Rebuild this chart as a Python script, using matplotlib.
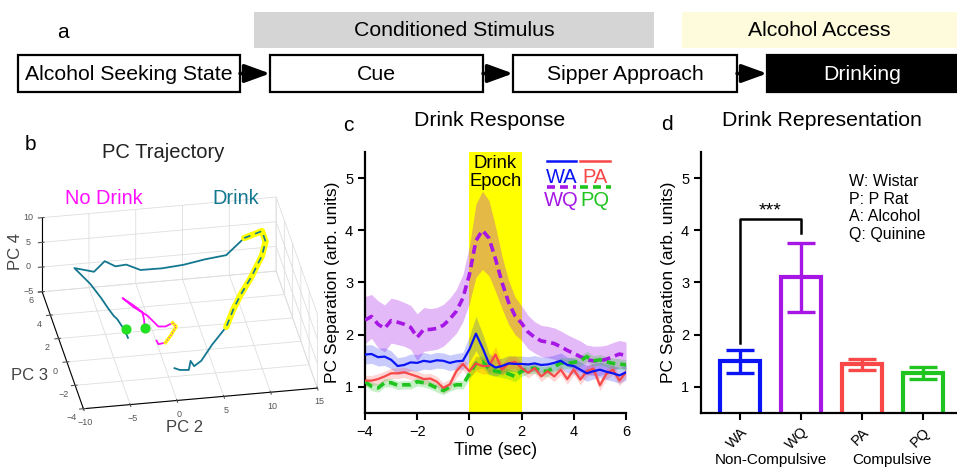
import numpy as np
import matplotlib
matplotlib.use('Agg')
import matplotlib.pyplot as plt
from matplotlib.patches import Rectangle

plt.rcParams['font.family'] = ['Liberation Sans', 'DejaVu Sans']

# ---------------- data ----------------
# panel a : task stages
stages = ['Alcohol Seeking State', 'Cue', 'Sipper Approach', 'Drinking']
bands = ['Conditioned Stimulus', 'Alcohol Access']

# panel b : PC trajectories (PC2, PC3, PC4)
drink_pc2 = [-3.33, -3.41, -3.76, -4.1, -4.48, -5.02, -5.8, -7.06, -5.34, -4.02, -3.01, -1.92, -0.64,
             1.46, 3.72, 6.05, 8.34, 10.55, 12.47, 12.64, 11.92, 10.3, 8.82, 7.75, 6.53, 4.59, 3.07,
             2.13, 1.86, 1.44, 0.51, 0.02]
drink_pc3 = [0.32, 1.0, 1.95, 2.05, 2.48, 3.0, 3.83, 4.86, 4.0, 4.39, 4.09, 3.95, 3.4,
             2.97, 2.9, 2.99, 2.98, 3.65, 3.69, 3.2, 2.46, 1.38, 0.6, -0.11, -1.13, -2.09, -2.93,
             -3.33, -3.07, -3.6, -3.54, -3.35]
drink_pc4 = [-2, -2, -2, -1.5, -1, 0, 1, 2, 3, 4, 3.5, 4, 4,
             5, 5.5, 6, 6.5, 8, 9, 8, 7, 5.5, 4, 3, 2, 1, 0,
             0, 0.5, 0, 0, 0]
nodrink_pc2 = [-1.4, -1.17, -1.18, -1.95, -2.89, -2.01, -0.76, 0.05, 0.79, 1.57, 1.9, 1.11, 0.39, -0.41, -0.47]
nodrink_pc3 = [0.64, 1.33, 1.73, 2.17, 2.63, 2.03, 1.39, 0.63, 0.58, 0.62, 0.5, 0.01, -0.34, -0.43, -0.12]
nodrink_pc4 = [-1, -1, -0.5, 0, 0.5, 0, -0.5, -1, -1, -0.5, -1, -1.5, -2, -2, -2]
drink_epoch_idx = (17, 25)
nodrink_epoch_idx = (9, 13)
start_pc2 = [-3.2, -1.4]
start_pc3 = [1.05, 0.64]
start_pc4 = [-2, -1]

# panel c : PC separation over time
time = np.arange(-4, 6.01, 0.25)
wq = [2.28, 2.35, 2.2, 2.12, 2.27, 2.24, 2.2, 2.14, 1.95, 2.1, 2.1, 2.12, 2.18, 2.3, 2.45, 2.7,
      3.15, 3.8, 4.0, 3.85, 3.45, 3.0, 2.62, 2.36, 2.22, 2.05, 1.95, 1.88, 1.86, 1.83, 1.77, 1.7,
      1.64, 1.58, 1.52, 1.5, 1.5, 1.53, 1.58, 1.63, 1.6]
wq_sem = [0.45, 0.42, 0.45, 0.45, 0.43, 0.43, 0.42, 0.42, 0.45, 0.42, 0.4, 0.4, 0.4, 0.4, 0.42, 0.45,
          0.55, 0.7, 0.75, 0.72, 0.62, 0.5, 0.42, 0.36, 0.33, 0.32, 0.3, 0.3, 0.3, 0.3, 0.3, 0.3,
          0.3, 0.3, 0.28, 0.28, 0.28, 0.27, 0.27, 0.26, 0.26]
wa = [1.62, 1.63, 1.57, 1.58, 1.52, 1.4, 1.42, 1.47, 1.46, 1.5, 1.48, 1.51, 1.5, 1.46, 1.49, 1.5,
      1.72, 2.02, 1.75, 1.45, 1.37, 1.4, 1.45, 1.44, 1.44, 1.43, 1.45, 1.42, 1.43, 1.46, 1.5, 1.42,
      1.4, 1.33, 1.26, 1.3, 1.33, 1.29, 1.26, 1.22, 1.28]
wa_sem = [0.18, 0.18, 0.17, 0.17, 0.17, 0.16, 0.16, 0.16, 0.16, 0.16, 0.15, 0.15, 0.15, 0.15, 0.15, 0.16,
          0.25, 0.33, 0.28, 0.2, 0.16, 0.15, 0.15, 0.15, 0.15, 0.15, 0.15, 0.15, 0.15, 0.15, 0.15, 0.15,
          0.15, 0.15, 0.15, 0.15, 0.15, 0.15, 0.15, 0.15, 0.15]
pa = [1.12, 1.12, 1.15, 1.2, 1.26, 1.26, 1.28, 1.24, 1.2, 1.15, 1.16, 1.1, 0.98, 1.05, 1.3, 1.44,
      1.3, 1.45, 1.4, 1.4, 1.62, 1.33, 1.45, 1.48, 1.36, 1.27, 1.36, 1.2, 1.3, 1.2, 1.33, 1.15,
      1.33, 1.14, 1.3, 1.35, 1.03, 1.25, 1.33, 1.12, 1.28]
pa_sem = [0.1, 0.1, 0.1, 0.1, 0.1, 0.1, 0.1, 0.1, 0.1, 0.1, 0.1, 0.1, 0.1, 0.1, 0.12, 0.12,
          0.12, 0.15, 0.15, 0.15, 0.15, 0.12, 0.12, 0.12, 0.1, 0.1, 0.1, 0.1, 0.1, 0.1, 0.1, 0.1,
          0.1, 0.1, 0.1, 0.1, 0.1, 0.1, 0.1, 0.1, 0.1]
pq = [1.1, 1.01, 0.98, 1.08, 1.08, 1.03, 1.04, 1.04, 1.1, 1.08, 1.04, 0.98, 0.93, 1.0, 1.04, 1.04,
      1.25, 1.45, 1.48, 1.35, 1.3, 1.28, 1.25, 1.2, 1.3, 1.35, 1.36, 1.3, 1.3, 1.38, 1.46, 1.45,
      1.47, 1.5, 1.58, 1.5, 1.52, 1.48, 1.45, 1.44, 1.42]
pq_sem = [0.08, 0.08, 0.08, 0.08, 0.08, 0.08, 0.08, 0.08, 0.08, 0.08, 0.08, 0.08, 0.08, 0.08, 0.08, 0.08,
          0.1, 0.12, 0.12, 0.12, 0.1, 0.1, 0.1, 0.1, 0.1, 0.1, 0.1, 0.1, 0.1, 0.1, 0.1, 0.1,
          0.1, 0.1, 0.1, 0.1, 0.1, 0.1, 0.1, 0.1, 0.1]

# panel d : mean drink representation
groups = ['WA', 'WQ', 'PA', 'PQ']
group_means = [1.49, 3.1, 1.43, 1.27]
group_sem = [0.22, 0.66, 0.11, 0.11]
group_types = ['Non-Compulsive', 'Compulsive']
key_text = 'W: Wistar\nP: P Rat\nA: Alcohol\nQ: Quinine'

# ---------------- style ----------------
W, H = 957, 468
blue, purple, red, green = '#0a14f5', '#a617e6', '#f84848', '#1fc41f'
teal, magenta = '#13778f', '#ff10ff'
big = 15.3


def fxy(x, y):
    return x / W, 1 - y / H


fig = plt.figure(figsize=(W / 100, H / 100), dpi=100)

# ---------------- panel a ----------------
ax_a = fig.add_axes([0, 0, 1, 1])
ax_a.set_xlim(0, W)
ax_a.set_ylim(H, 0)
ax_a.axis('off')
ax_a.patch.set_alpha(0)

band_span = [(254, 654, '#d5d5d5'), (682, 960, '#fdfbdb')]
for name, (x0, x1, c) in zip(bands, band_span):
    ax_a.add_patch(Rectangle((x0, 12), x1 - x0, 36, facecolor=c, edgecolor='none'))
    ax_a.text((x0 + min(x1, W)) / 2, 31, name, ha='center', va='center', fontsize=big)

box_span = [(18, 240), (270, 483), (513, 737), (767, 962)]
for i, (name, (x0, x1)) in enumerate(zip(stages, box_span)):
    last = i == len(stages) - 1
    ax_a.add_patch(Rectangle((x0, 55), x1 - x0, 37, facecolor='black' if last else 'white',
                             edgecolor='black', lw=1.6))
    ax_a.text((x0 + min(x1, W)) / 2, 74.5, name, ha='center', va='center', fontsize=big,
              color='white' if last else 'black')
    if not last:
        ax_a.annotate('', xy=(box_span[i + 1][0], 73.5), xytext=(x1, 73.5),
                      arrowprops=dict(arrowstyle='-|>,head_length=1.1,head_width=0.4', lw=2.5,
                                      color='black', shrinkA=0, shrinkB=0, mutation_scale=14))
fig.text(*fxy(63, 32), 'a', fontsize=15, ha='center', va='center')

# ---------------- panel b ----------------
ax3 = fig.add_axes([0.004, 0.055, 0.36, 0.58], projection='3d')
ax3.set_proj_type('ortho')
ax3.view_init(elev=30, azim=-100)
ax3.set_box_aspect((1, 1, 0.36), zoom=1.24)
ax3.plot(drink_pc2, drink_pc3, drink_pc4, color=teal, lw=1.3)
a, b = drink_epoch_idx
ax3.plot(drink_pc2[a:b], drink_pc3[a:b], drink_pc4[a:b], color='#ffff00', lw=4.5, solid_capstyle='round')
ax3.plot(drink_pc2[a:b], drink_pc3[a:b], drink_pc4[a:b], color=teal, lw=1.2, dashes=(4, 3))
ax3.plot(nodrink_pc2, nodrink_pc3, nodrink_pc4, color=magenta, lw=1.3)
a, b = nodrink_epoch_idx
ax3.plot(nodrink_pc2[a:b], nodrink_pc3[a:b], nodrink_pc4[a:b], color='#ffff00', lw=2.5)
ax3.plot(nodrink_pc2[a:b], nodrink_pc3[a:b], nodrink_pc4[a:b], color=magenta, lw=0.8, ls=':')
ax3.scatter(start_pc2, start_pc3, start_pc4, color='#22e022', s=40, depthshade=False, zorder=5)
ax3.set_xlim(-10, 15)
ax3.set_ylim(-4, 6)
ax3.set_zlim(-5, 10)
ax3.set_xticks([-10, -5, 0, 5, 10, 15])
ax3.set_yticks([-4, -2, 0, 2, 4, 6])
ax3.set_zticks([-5, 0, 5, 10])
for axis in (ax3.xaxis, ax3.yaxis, ax3.zaxis):
    axis.set_pane_color((1, 1, 1, 0))
    axis.pane.set_edgecolor('#d8d8d8')
    axis._axinfo['grid']['color'] = '#dedede'
    axis._axinfo['grid']['linewidth'] = 0.6
    axis.line.set_color('black')
    axis.line.set_linewidth(0.8)
ax3.tick_params(labelsize=6.5, colors='#555555', pad=-3)
fig.text(*fxy(30, 145), 'b', fontsize=15, ha='center', va='center')
fig.text(*fxy(163, 153), 'PC Trajectory', fontsize=14.5, ha='center', va='center', color='#222222')
fig.text(*fxy(104, 198), 'No Drink', fontsize=14.4, ha='center', va='center', color=magenta)
fig.text(*fxy(236, 198), 'Drink', fontsize=14.4, ha='center', va='center', color=teal)
fig.text(*fxy(16, 252), 'PC 4', fontsize=12, ha='center', va='center', rotation=90, color='#444444')
fig.text(*fxy(30, 375), 'PC 3', fontsize=12, ha='center', va='center', color='#444444')
fig.text(*fxy(185, 428), 'PC 2', fontsize=12, ha='center', va='center', color='#444444')

# ---------------- panel c ----------------
ax_c = fig.add_axes([365 / W, 1 - 413 / H, 261 / W, 261 / H])
ax_c.axvspan(0, 2, color='#ffff00', lw=0, zorder=0)
series = [(wq, wq_sem, purple, 0.3), (wa, wa_sem, blue, 0.22), (pa, pa_sem, red, 0.22), (pq, pq_sem, green, 0.25)]
for m, s, c, al in series:
    m, s = np.array(m), np.array(s)
    ax_c.fill_between(time, m - s, m + s, color=c, alpha=al, lw=0, zorder=1)
ax_c.plot(time, wq, color=purple, lw=2.6, dashes=(2.4, 1.4), zorder=3)
ax_c.plot(time, pq, color=green, lw=2.6, dashes=(2.4, 1.4), zorder=3)
ax_c.plot(time, pa, color=red, lw=1.6, zorder=4)
ax_c.plot(time, wa, color=blue, lw=1.6, zorder=5)
ax_c.text(1, 5.11, 'Drink\nEpoch', ha='center', va='center', fontsize=13.3, linespacing=1.05)
ax_c.set_xlim(-4, 6)
ax_c.set_ylim(0.5, 5.5)
ax_c.set_xticks([-4, -2, 0, 2, 4, 6])
ax_c.set_yticks([1, 2, 3, 4, 5])
ax_c.set_xlabel('Time (sec)', fontsize=12.8, labelpad=2)
ax_c.set_ylabel('PC Separation (arb. units)', fontsize=12.5, labelpad=4)
ax_c.set_title('Drink Response', fontsize=big, pad=19, x=0.479)
# legend built by hand (line above label)
leg = [('WA', blue, '-', 0.697, 0.808), ('PA', red, '-', 0.824, 0.939),
       ('WQ', purple, '--', 0.697, 0.808), ('PQ', green, '--', 0.824, 0.941)]
for k, (lab, c, ls, x0, x1) in enumerate(leg):
    yl = 0.966 if k < 2 else 0.866
    yt = 0.904 if k < 2 else 0.814
    if ls == '-':
        ax_c.plot([x0, x1], [yl, yl], color=c, lw=1.8, transform=ax_c.transAxes, clip_on=False)
    else:
        ax_c.plot([x0, x1], [yl, yl], color=c, lw=2.6, dashes=(2.2, 1.4), transform=ax_c.transAxes, clip_on=False)
    ax_c.text((x0 + x1) / 2, yt, lab, color=c, fontsize=14.5, ha='center', va='center', transform=ax_c.transAxes)
fig.text(*fxy(348, 126), 'c', fontsize=15, ha='center', va='center')

# ---------------- panel d ----------------
ax_d = fig.add_axes([701 / W, 1 - 413 / H, 256 / W, 261 / H])
xpos = np.arange(len(groups))
colors = [blue, purple, red, green]
ax_d.bar(xpos, group_means, width=0.65, facecolor='none', edgecolor=colors, lw=3, zorder=2)
for x, m, s, c in zip(xpos, group_means, group_sem, colors):
    ax_d.errorbar(x, m, yerr=s, color=c, lw=2.4, capsize=10, capthick=2.4, zorder=3)
ax_d.plot([0, 0, 1, 1], [1.85, 4.22, 4.22, 3.95], color='black', lw=1.8)
ax_d.text(0.5, 4.2, '***', ha='center', va='bottom', fontsize=14)
ax_d.text(1.79, 5.07, key_text, ha='left', va='top', fontsize=11.5, linespacing=1.2)
ax_d.set_xlim(-0.64, 3.56)
ax_d.set_ylim(0.5, 5.5)
ax_d.set_yticks([1, 2, 3, 4, 5])
ax_d.set_xticks(xpos)
ax_d.set_xticklabels(groups, rotation=45, ha='right', rotation_mode='anchor', fontsize=11)
ax_d.set_ylabel('PC Separation (arb. units)', fontsize=12.5, labelpad=4)
ax_d.set_title('Drink Representation', fontsize=big, pad=19, x=0.473)
for x, lab in zip([0.5, 2.5], group_types):
    ax_d.text(x, -0.18, lab, ha='center', va='center', fontsize=11,
              transform=ax_d.get_xaxis_transform())
fig.text(*fxy(667, 124), 'd', fontsize=15, ha='center', va='center')

for ax in (ax_c, ax_d):
    for sp in ('top', 'right'):
        ax.spines[sp].set_visible(False)
    for sp in ('left', 'bottom'):
        ax.spines[sp].set_linewidth(1.6)
    ax.tick_params(direction='out', length=5, width=1.5, labelsize=10.5)

fig.savefig('out.png', dpi=100)
